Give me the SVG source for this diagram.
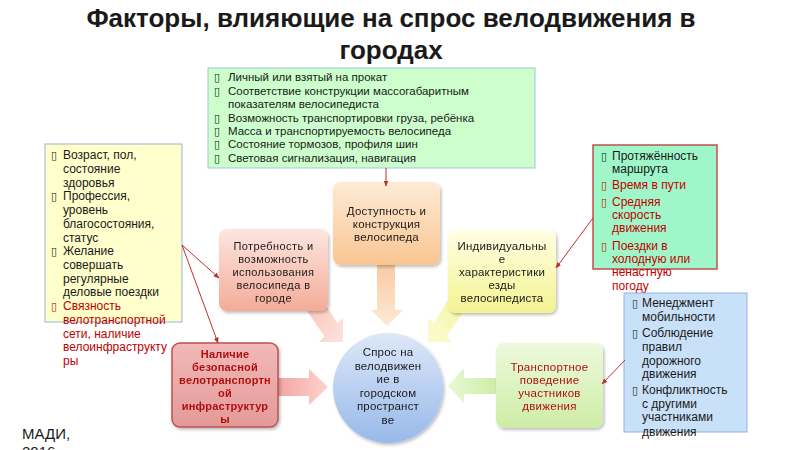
<svg xmlns="http://www.w3.org/2000/svg" width="800" height="450" viewBox="0 0 800 450">
<defs>
<style>
text{font-family:"Liberation Sans",Arial,sans-serif;fill:#1a1a1a}
.title{font-size:26px;font-weight:bold;text-anchor:middle}
.lst{font-size:11.5px}
.lst2{font-size:12px}
.red{fill:#c00000}
.nd{font-size:11.5px;text-anchor:middle;letter-spacing:0.2px}
.nds{font-size:11px;text-anchor:middle;letter-spacing:0.4px}
.ndr{font-size:11px;text-anchor:middle;fill:#b01010;font-weight:bold;letter-spacing:0.2px}
.ndt{font-size:11.5px;text-anchor:middle;fill:#b01010;letter-spacing:0.3px}
.bul{font-family:"DejaVu Sans",sans-serif;font-size:11px}
.conn{stroke:#c0302b;stroke-width:1;fill:none;marker-end:url(#ah)}
</style>
<marker id="ah" viewBox="0 0 10 10" refX="9" refY="5" markerWidth="6" markerHeight="6" orient="auto">
<path d="M0,1 L10,5 L0,9 z" fill="#c0302b"/>
</marker>
<filter id="sh" x="-10%" y="-10%" width="125%" height="125%">
<feDropShadow dx="1.5" dy="2" stdDeviation="1.5" flood-color="#000" flood-opacity="0.25"/>
</filter>
<linearGradient id="gPot" x1="0" y1="0" x2="0" y2="1"><stop offset="0" stop-color="#fde6e0"/><stop offset="1" stop-color="#f4ab98"/></linearGradient>
<linearGradient id="gDos" x1="0" y1="0" x2="0" y2="1"><stop offset="0" stop-color="#fdebd6"/><stop offset="1" stop-color="#f9c591"/></linearGradient>
<linearGradient id="gInd" x1="0" y1="0" x2="0" y2="1"><stop offset="0" stop-color="#ffffe4"/><stop offset="1" stop-color="#f3f392"/></linearGradient>
<linearGradient id="gNal" x1="0" y1="0" x2="0" y2="1"><stop offset="0" stop-color="#f1b9b8"/><stop offset="1" stop-color="#e39a98"/></linearGradient>
<linearGradient id="gTra" x1="0" y1="0" x2="0" y2="1"><stop offset="0" stop-color="#eef9dd"/><stop offset="1" stop-color="#cdeda5"/></linearGradient>
<linearGradient id="gCir" x1="0" y1="0" x2="0" y2="1"><stop offset="0" stop-color="#dde8f8"/><stop offset="1" stop-color="#98b9ea"/></linearGradient>
<linearGradient id="aDos" x1="0" y1="0" x2="0" y2="1"><stop offset="0" stop-color="#f9c9a0"/><stop offset="1" stop-color="#fde9d6"/></linearGradient>
<linearGradient id="aPot" x1="0" y1="0" x2="1" y2="1"><stop offset="0" stop-color="#f6b4a4"/><stop offset="1" stop-color="#fde3dc"/></linearGradient>
<linearGradient id="aInd" x1="1" y1="0" x2="0" y2="1"><stop offset="0" stop-color="#f1f18a"/><stop offset="1" stop-color="#fbfbd2"/></linearGradient>
<linearGradient id="aNal" x1="0" y1="0" x2="1" y2="0"><stop offset="0" stop-color="#f3a5a0"/><stop offset="1" stop-color="#fbd3cf"/></linearGradient>
<linearGradient id="aTra" x1="1" y1="0" x2="0" y2="0"><stop offset="0" stop-color="#cdeda5"/><stop offset="1" stop-color="#eaf8d6"/></linearGradient>
</defs>
<rect width="800" height="450" fill="#ffffff"/>

<g id="title">
<text class="title" x="391" y="27">Факторы, влияющие на спрос велодвижения в</text>
<text class="title" x="391" y="59">городах</text>
</g>

<g id="block-arrows">
<path d="M377,262 L395,262 L395,310 L403,310 L387,326 L371,310 L377,310 Z" fill="url(#aDos)"/>
<path d="M290,286 L305,271 L337.4,323.6 L343,318 L343,342 L319,342 L324.6,336.4 Z" fill="url(#aPot)"/>
<path d="M481,286 L466,271 L433.6,323.6 L428,318 L428,342 L452,342 L446.4,336.4 Z" fill="url(#aInd)"/>
<path d="M276,378 L309,378 L309,369 L328,387 L309,405 L309,396 L276,396 Z" fill="url(#aNal)"/>
<path d="M498,378 L464,378 L464,368 L448,386 L464,403 L464,394 L498,394 Z" fill="url(#aTra)"/>
</g>

<g id="box-bike">
<rect x="208" y="68" width="327" height="100" fill="#ccffcc" stroke="#9fc3e0" stroke-width="1"/>
<text class="bul" x="214" y="81">▯</text><text class="lst" x="228" y="81">Личный или взятый на прокат</text>
<text class="bul" x="214" y="95">▯</text><text class="lst" x="228" y="95">Соответствие конструкции массогабаритным</text>
<text class="lst" x="228" y="108">показателям велосипедиста</text>
<text class="bul" x="214" y="122">▯</text><text class="lst" x="228" y="122">Возможность транспортировки груза, ребёнка</text>
<text class="bul" x="214" y="135">▯</text><text class="lst" x="228" y="135">Масса и транспортируемость велосипеда</text>
<text class="bul" x="214" y="148">▯</text><text class="lst" x="228" y="148">Состояние тормозов, профиля шин</text>
<text class="bul" x="214" y="162">▯</text><text class="lst" x="228" y="162">Световая сигнализация, навигация</text>
</g>

<g id="box-person">
<rect x="45" y="144" width="137" height="178" fill="#ffffcc" stroke="#95b3d7" stroke-width="1"/>
<text class="bul" x="51" y="159">▯</text><text class="lst2" x="63" y="159">Возраст, пол,</text>
<text class="lst2" x="63" y="173">состояние</text>
<text class="lst2" x="63" y="186.5">здоровья</text>
<text class="bul" x="51" y="200">▯</text><text class="lst2" x="63" y="200">Профессия,</text>
<text class="lst2" x="63" y="214">уровень</text>
<text class="lst2" x="63" y="228">благосостояния,</text>
<text class="lst2" x="63" y="241.5">статус</text>
<text class="bul" x="51" y="255">▯</text><text class="lst2" x="63" y="255">Желание</text>
<text class="lst2" x="63" y="269">совершать</text>
<text class="lst2" x="63" y="282.5">регулярные</text>
<text class="lst2" x="63" y="296">деловые поездки</text>
<text class="bul red" x="51" y="310">▯</text><text class="lst2 red" x="63" y="310">Связность</text>
<text class="lst2 red" x="63" y="324">велотранспортной</text>
<text class="lst2 red" x="63" y="337.5">сети, наличие</text>
<text class="lst2 red" x="63" y="351">велоинфраструкту</text>
<text class="lst2 red" x="63" y="365">ры</text>
</g>

<g id="box-ride">
<rect x="593" y="145" width="124" height="124" fill="#9ff7c9" stroke="#c0504d" stroke-width="1.5"/>
<text class="bul" x="601" y="160">▯</text><text class="lst2" x="612" y="160">Протяжённость</text>
<text class="lst2" x="612" y="173">маршрута</text>
<text class="bul red" x="601" y="189">▯</text><text class="lst2 red" x="612" y="189">Время в пути</text>
<text class="bul red" x="601" y="206">▯</text><text class="lst2 red" x="612" y="206">Средняя</text>
<text class="lst2 red" x="612" y="219">скорость</text>
<text class="lst2 red" x="612" y="232">движения</text>
<text class="bul red" x="601" y="250">▯</text><text class="lst2 red" x="612" y="250">Поездки в</text>
<text class="lst2 red" x="612" y="263">холодную или</text>
<text class="lst2 red" x="612" y="276">ненастную</text>
<text class="lst2 red" x="612" y="290">погоду</text>
</g>

<g id="box-behav">
<rect x="624" y="293" width="123" height="139" fill="#c9e1f8" stroke="#8db3e2" stroke-width="1"/>
<text class="bul" x="632" y="307">▯</text><text class="lst2" x="642" y="307">Менеджмент</text>
<text class="lst2" x="642" y="321">мобильности</text>
<text class="bul" x="632" y="337">▯</text><text class="lst2" x="642" y="337">Соблюдение</text>
<text class="lst2" x="642" y="351">правил</text>
<text class="lst2" x="642" y="365">дорожного</text>
<text class="lst2" x="642" y="378">движения</text>
<text class="bul" x="632" y="394">▯</text><text class="lst2" x="642" y="394">Конфликтность</text>
<text class="lst2" x="642" y="408">с другими</text>
<text class="lst2" x="642" y="421">участниками</text>
<text class="lst2" x="642" y="436">движения</text>
</g>

<g id="node-need" filter="url(#sh)">
<rect x="219" y="229" width="109" height="82" rx="8" fill="url(#gPot)"/>
<text class="nds" x="273.5" y="250">Потребность и</text>
<text class="nds" x="273.5" y="263">возможность</text>
<text class="nds" x="273.5" y="276">использования</text>
<text class="nds" x="273.5" y="289">велосипеда в</text>
<text class="nds" x="273.5" y="302">городе</text>
</g>

<g id="node-access" filter="url(#sh)">
<rect x="333" y="182" width="107" height="83" rx="8" fill="url(#gDos)"/>
<text class="nd" x="386.5" y="215">Доступность и</text>
<text class="nd" x="386.5" y="228">конструкция</text>
<text class="nd" x="386.5" y="241">велосипеда</text>
</g>

<g id="node-indiv" filter="url(#sh)">
<rect x="448" y="230" width="108" height="83" rx="8" fill="url(#gInd)"/>
<text class="nd" x="502" y="250">Индивидуальны</text>
<text class="nd" x="502" y="263">е</text>
<text class="nd" x="502" y="276">характеристики</text>
<text class="nd" x="502" y="289">езды</text>
<text class="nd" x="502" y="302">велосипедиста</text>
</g>

<g id="node-infra" filter="url(#sh)">
<rect x="172" y="343" width="106" height="84" rx="8" fill="url(#gNal)" stroke="#c0504d" stroke-width="1.5"/>
<text class="ndr" x="225" y="358">Наличие</text>
<text class="ndr" x="225" y="371">безопасной</text>
<text class="ndr" x="225" y="384">велотранспортн</text>
<text class="ndr" x="225" y="397">ой</text>
<text class="ndr" x="225" y="410">инфраструктур</text>
<text class="ndr" x="225" y="423">ы</text>
</g>

<g id="node-transport" filter="url(#sh)">
<rect x="496" y="343" width="107" height="85" rx="8" fill="url(#gTra)"/>
<text class="ndt" x="549.5" y="371">Транспортное</text>
<text class="ndt" x="549.5" y="384">поведение</text>
<text class="ndt" x="549.5" y="397">участников</text>
<text class="ndt" x="549.5" y="410">движения</text>
</g>

<g id="node-demand" filter="url(#sh)">
<circle cx="388" cy="388" r="55" fill="url(#gCir)"/>
<text class="nd" x="388" y="356">Спрос на</text>
<text class="nd" x="388" y="369.5">велодвижен</text>
<text class="nd" x="388" y="383">ие в</text>
<text class="nd" x="388" y="396.5">городском</text>
<text class="nd" x="388" y="410">пространст</text>
<text class="nd" x="388" y="423.5">ве</text>
</g>

<g id="connectors">
<line class="conn" x1="386" y1="168" x2="386" y2="186"/>
<line class="conn" x1="182" y1="245" x2="219" y2="278"/>
<line class="conn" x1="182" y1="245" x2="218" y2="343"/>
<line class="conn" x1="593" y1="218" x2="556" y2="268"/>
<line class="conn" x1="625" y1="360" x2="602" y2="384"/>
</g>

<g id="footer">
<text x="22" y="439" style="font-size:15px">МАДИ,</text>
<text x="22" y="457" style="font-size:15px">2016</text>
</g>
</svg>
